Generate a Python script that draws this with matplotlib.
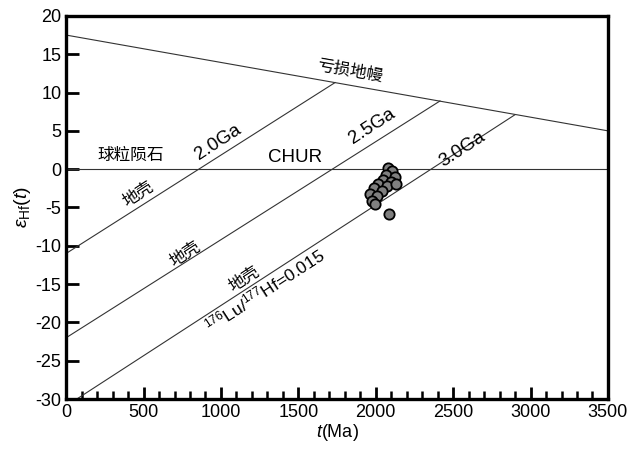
import matplotlib
matplotlib.use("Agg")
import matplotlib.pyplot as plt
from matplotlib.ticker import MultipleLocator

plt.rcParams['font.family'] = ['Liberation Sans', 'Noto Sans CJK SC']
plt.rcParams['mathtext.fontset'] = 'custom'
plt.rcParams['mathtext.rm'] = 'Liberation Sans'
plt.rcParams['mathtext.it'] = 'Liberation Sans:italic'
plt.rcParams['axes.unicode_minus'] = False

# reference lines (t in Ma, epsilon Hf)
dm_t = [0, 3500]
dm_e = [17.5, 5.0]
chur_t = [0, 3500]
chur_e = [0, 0]
crust_t = [[0, 1737], [0, 2415], [0, 2899]]
crust_e = [[-11.0, 11.3], [-22.0, 8.9], [-30.9, 7.1]]

# zircon analyses
age = [2079, 2105, 2066, 2124, 2047, 2099, 2015, 2073, 1989, 2041,
       1963, 2008, 1976, 1995, 2131, 2086]
ehf = [0.1, -0.3, -0.8, -1.0, -1.4, -1.7, -2.0, -2.2, -2.5, -2.9,
       -3.3, -3.5, -4.2, -4.5, -1.9, -5.8]

fig = plt.figure(figsize=(6.3, 4.55), dpi=100)
ax = fig.add_axes([0.105, 0.123, 0.860, 0.842])

ax.plot(dm_t, dm_e, color='#333333', lw=0.8)
ax.plot(chur_t, chur_e, color='#333333', lw=0.8)
for t, e in zip(crust_t, crust_e):
    ax.plot(t, e, color='#333333', lw=0.8)

ax.scatter(age, ehf, s=55, facecolor='#7f7f7f', edgecolor='black', linewidth=1.3, zorder=3)

ax.set_xlim(0, 3500)
ax.set_ylim(-30, 20)
ax.xaxis.set_major_locator(MultipleLocator(500))
ax.xaxis.set_minor_locator(MultipleLocator(100))
ax.yaxis.set_major_locator(MultipleLocator(5))
ax.tick_params(axis='both', which='major', direction='in', length=9, width=2, labelsize=13)
ax.tick_params(axis='x', which='minor', direction='in', length=6, width=1.8)
ax.tick_params(top=False, right=False)
for s in ax.spines.values():
    s.set_linewidth(2.4)

ax.set_xlabel('$t$(Ma)', fontsize=13, labelpad=1)
ax.set_ylabel(r'$\varepsilon_{\rm Hf}(t)$', fontsize=14, labelpad=2)

txt = dict(fontsize=12, ha='center', va='center')
ax.text(1834, 12.8, '亏损地幔', rotation=-10, **txt)
ax.text(420, 1.8, '球粒陨石', **txt)
ax.text(1479, 1.5, 'CHUR', fontsize=13.5, ha='center', va='center')
ax.text(982, 3.5, '2.0Ga', rotation=33, fontsize=13.5, ha='center', va='center')
ax.text(1976, 5.6, '2.5Ga', rotation=33, fontsize=13.5, ha='center', va='center')
ax.text(2557, 2.6, '3.0Ga', rotation=33, fontsize=13.5, ha='center', va='center')
ax.text(465, -3.2, '地壳', rotation=33, **txt)
ax.text(768, -11.1, '地壳', rotation=33, **txt)
ax.text(1149, -14.3, '地壳', rotation=33, **txt)
ax.text(1285, -15.8, r'$^{176}$Lu/$^{177}$Hf=0.015', rotation=33, fontsize=12.5,
        ha='center', va='center')

fig.savefig('out.png', dpi=100)
